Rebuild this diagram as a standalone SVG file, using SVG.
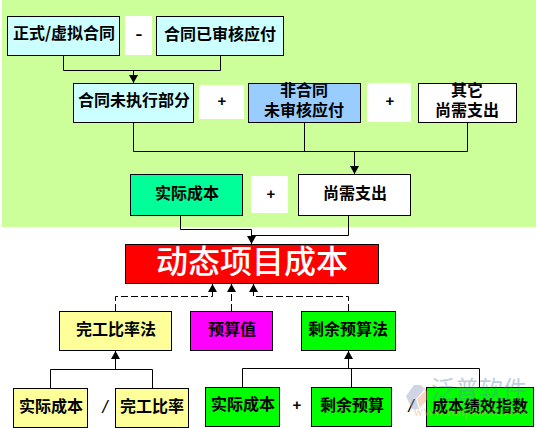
<svg xmlns="http://www.w3.org/2000/svg" width="536" height="428" viewBox="0 0 536 428">
<style>
.b{stroke:#000;stroke-width:1}
.t{font-family:"Noto Sans CJK SC","Liberation Sans",sans-serif;font-size:16px;font-weight:700;fill:#000;text-anchor:middle}
.p{font-family:"Liberation Sans",sans-serif;font-size:15px;font-weight:700;fill:#000;text-anchor:middle}
.c{fill:none;stroke:#000;stroke-width:1}
.d{fill:none;stroke:#000;stroke-width:1;stroke-dasharray:7 3}
</style>
<defs>
<marker id="a" markerUnits="userSpaceOnUse" markerWidth="9" markerHeight="9" refX="8" refY="4.5" orient="auto"><path d="M0 0L8 4.5L0 9Z" fill="#000"/></marker>
</defs>
<rect width="536" height="428" fill="#fff"/>
<rect x="2" y="0" width="534" height="227" fill="#CCFF99"/>
<g id="connectors">
<path class="c" d="M63.5 55V70.5H220.5V55M133.5 70.5V83" marker-end="url(#a)"/>
<path class="c" d="M133.5 122V151.5H467.5V122M304.5 122V151.5"/>
<path class="c" d="M354.5 151.5V174" marker-end="url(#a)"/>
<path class="c" d="M180.5 215V229.5H251.5V244" marker-end="url(#a)"/>
<path class="c" d="M348.5 215V235.5H251.5"/>
<path class="d" d="M115.5 311V296.5H212.5V284" marker-end="url(#a)"/>
<path class="d" d="M231.5 311V284" marker-end="url(#a)"/>
<path class="d" d="M348.5 311V296.5H253.5V284" marker-end="url(#a)"/>
<path class="c" d="M50.5 388V369.5H152.5V388"/>
<path class="c" d="M115.5 369.5V351" marker-end="url(#a)"/>
<path class="c" d="M242.5 387V368.5H479.5V387M351.5 368.5V387"/>
<path class="c" d="M348.5 368.5V351" marker-end="url(#a)"/>
</g>
<g id="op1"><rect x="125" y="16" width="27" height="39" fill="#fff"/><text x="139" y="41" font-family="'Liberation Sans',sans-serif" font-size="22" text-anchor="middle">-</text></g>
<g id="op2"><rect x="199" y="85" width="45" height="34" fill="#fff"/><text class="p" x="222" y="106">+</text></g>
<g id="op3"><rect x="367" y="83" width="44" height="39" fill="#fff"/><text class="p" x="390" y="106">+</text></g>
<g id="op4"><rect x="251" y="176" width="37" height="37" fill="#fff"/><text class="p" x="271" y="199">+</text></g>
<g id="n1"><rect class="b" x="7.5" y="16.5" width="112" height="39" fill="#CCFFFF"/><text class="t" x="64" y="39">正式/虚拟合同</text></g>
<g id="n2"><rect class="b" x="156.5" y="16.5" width="127" height="39" fill="#CCFFFF"/><text class="t" x="220" y="40">合同已审核应付</text></g>
<g id="n3"><rect class="b" x="73.5" y="83.5" width="120" height="39" fill="#CCFFFF"/><text class="t" x="134" y="106">合同未执行部分</text></g>
<g id="n4"><rect class="b" x="248.5" y="83.5" width="112" height="39" fill="#99CCFF"/><text class="t" x="304" y="96">非合同<tspan x="304" dy="20">未审核应付</tspan></text></g>
<g id="n5"><rect class="b" x="418.5" y="83.5" width="98" height="39" fill="#fff"/><text class="t" x="467" y="96">其它<tspan x="467" dy="20">尚需支出</tspan></text></g>
<g id="n6"><rect class="b" x="130.5" y="174.5" width="112" height="41" fill="#00FF99"/><text class="t" x="187" y="199">实际成本</text></g>
<g id="n7"><rect class="b" x="298.5" y="174.5" width="112" height="41" fill="#fff"/><text class="t" x="355" y="199">尚需支出</text></g>
<g id="n8"><rect class="b" x="125.5" y="244.5" width="253" height="39" fill="#FF0000"/><text x="252" y="273" text-anchor="middle" font-family="'Noto Sans CJK SC',sans-serif" font-size="32" font-weight="500" fill="#fff">动态项目成本</text></g>
<g id="n9"><rect class="b" x="59.5" y="311.5" width="112" height="39" fill="#FFFF99"/><text class="t" x="116" y="335">完工比率法</text></g>
<g id="n10"><rect class="b" x="190.5" y="311.5" width="82" height="39" fill="#FF00FF"/><text class="t" x="232" y="335">预算值</text></g>
<g id="n11"><rect class="b" x="301.5" y="311.5" width="94" height="39" fill="#00FF00"/><text class="t" x="348" y="335">剩余预算法</text></g>
<g id="n12"><rect class="b" x="13.5" y="388.5" width="74" height="39" fill="#FFFF99"/><text class="t" x="51" y="412">实际成本</text></g>
<g id="n13"><rect class="b" x="115.5" y="388.5" width="73" height="39" fill="#FFFF99"/><text class="t" x="152" y="412">完工比率</text></g>
<g id="n14"><rect class="b" x="205.5" y="387.5" width="74" height="39" fill="#00FF00"/><text class="t" x="243" y="410">实际成本</text></g>
<g id="n15"><rect class="b" x="311.5" y="387.5" width="80" height="39" fill="#00FF00"/><text class="t" x="352" y="411">剩余预算</text></g>
<g id="n16"><rect class="b" x="426.5" y="387.5" width="107" height="39" fill="#00FF00"/><text class="t" x="480" y="412">成本绩效指数</text></g>
<text x="105" y="413" font-family="'Liberation Sans',sans-serif" font-size="18" font-style="italic" text-anchor="middle">/</text>
<text class="p" x="297" y="410">+</text>
<text x="411" y="412" font-family="'Liberation Sans',sans-serif" font-size="18" font-style="italic" text-anchor="middle">/</text>
<g id="watermark" opacity="0.4">
<path d="M406 396L414 385H421L424 390L416 399L419 409H412Z" fill="#8899BB"/>
<path d="M420 385C427 388 430 394 427 400L420 408L417 399L425 391Z" fill="#EE9966"/>
<text x="479" y="398" text-anchor="middle" font-family="'Noto Sans CJK SC',sans-serif" font-size="24" fill="#6688AA">泛普软件</text>
<text x="470" y="416" text-anchor="middle" font-family="'Liberation Serif',serif" font-size="14" fill="#EE9966">www.fanpusoft.com</text>
</g>
</svg>
